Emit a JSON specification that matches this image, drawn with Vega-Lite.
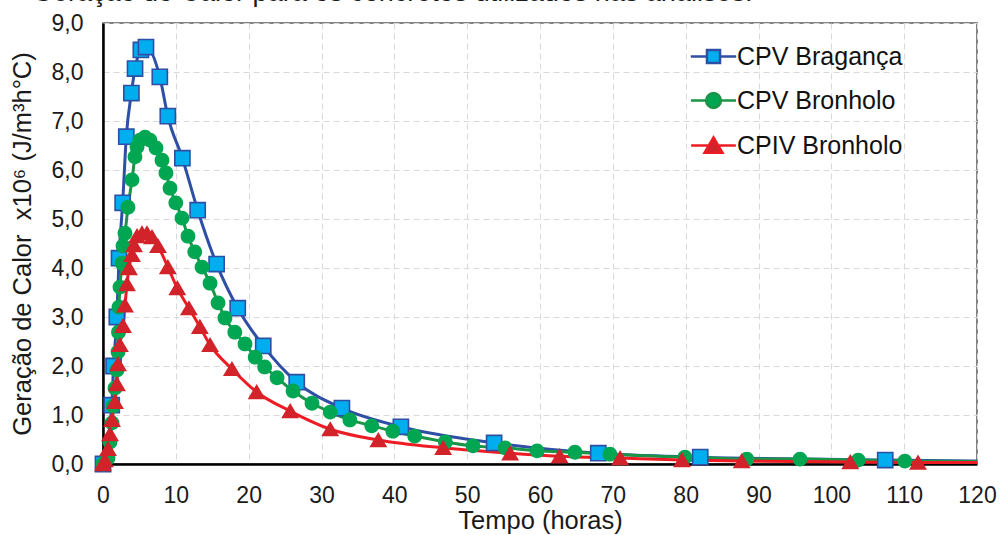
{
  "$schema": "https://vega.github.io/schema/vega-lite/v6.json",
  "width": 874,
  "height": 441,
  "autosize": {"type": "none"},
  "padding": {"left": 103, "top": 23, "right": 23, "bottom": 71},
  "background": "white",
  "title": {
    "text": "Geração do Calor para os concretos utilizados nas análises.",
    "anchor": "start",
    "frame": "group",
    "dx": -71,
    "dy": 22,
    "offset": 6,
    "baseline": "alphabetic",
    "font": "Liberation Sans",
    "fontSize": 27,
    "fontWeight": "normal",
    "color": "#1a1a1a"
  },
  "config": {
    "view": {"stroke": "#595959", "strokeWidth": 1.5},
    "axis": {
      "labelFont": "Liberation Sans",
      "labelFontSize": 23,
      "labelColor": "#1a1a1a",
      "titleFont": "Liberation Sans",
      "titleFontSize": 25.5,
      "titleFontWeight": "normal",
      "titleColor": "#1a1a1a",
      "domainColor": "#000000",
      "domainWidth": 2.5,
      "ticks": false,
      "tickSize": 0,
      "gridColor": "#D9D9D9",
      "gridDash": [6, 4],
      "gridWidth": 1,
      "labelPadding": 20
    },
    "legend": {
      "padding": 0,
      "rowPadding": 18,
      "labelOffset": 11,
      "symbolStrokeWidth": 2.5,
      "labelFont": "Liberation Sans",
      "labelFontSize": 25,
      "labelColor": "#111111",
      "labelLimit": 0
    }
  },
  "data": {
    "values": [
      {"s": "CPV Bragança", "t": 0, "v": 0},
      {"s": "CPV Bragança", "t": 1.2, "v": 1.2},
      {"s": "CPV Bragança", "t": 1.45, "v": 2.0},
      {"s": "CPV Bragança", "t": 1.9, "v": 3.0},
      {"s": "CPV Bragança", "t": 2.2, "v": 4.2},
      {"s": "CPV Bragança", "t": 2.7, "v": 5.33},
      {"s": "CPV Bragança", "t": 3.2, "v": 6.68},
      {"s": "CPV Bragança", "t": 3.9, "v": 7.57},
      {"s": "CPV Bragança", "t": 4.4, "v": 8.07},
      {"s": "CPV Bragança", "t": 5.2, "v": 8.45},
      {"s": "CPV Bragança", "t": 5.9, "v": 8.51},
      {"s": "CPV Bragança", "t": 7.8, "v": 7.9},
      {"s": "CPV Bragança", "t": 8.9, "v": 7.1},
      {"s": "CPV Bragança", "t": 10.9, "v": 6.24},
      {"s": "CPV Bragança", "t": 13.0, "v": 5.18},
      {"s": "CPV Bragança", "t": 15.6, "v": 4.08},
      {"s": "CPV Bragança", "t": 18.5, "v": 3.18},
      {"s": "CPV Bragança", "t": 22.0, "v": 2.41},
      {"s": "CPV Bragança", "t": 26.6, "v": 1.67},
      {"s": "CPV Bragança", "t": 32.8, "v": 1.14},
      {"s": "CPV Bragança", "t": 40.9, "v": 0.76},
      {"s": "CPV Bragança", "t": 53.7, "v": 0.43},
      {"s": "CPV Bragança", "t": 68.0, "v": 0.22},
      {"s": "CPV Bragança", "t": 82.0, "v": 0.14},
      {"s": "CPV Bragança", "t": 107.4, "v": 0.08},
      {"s": "CPV Bragança", "t": 120, "v": 0.06},

      {"s": "CPV Bronholo", "t": 0, "v": 0},
      {"s": "CPV Bronholo", "t": 0.69, "v": 0.12},
      {"s": "CPV Bronholo", "t": 0.96, "v": 0.45},
      {"s": "CPV Bronholo", "t": 1.24, "v": 0.84},
      {"s": "CPV Bronholo", "t": 1.37, "v": 1.18},
      {"s": "CPV Bronholo", "t": 1.65, "v": 1.55},
      {"s": "CPV Bronholo", "t": 1.92, "v": 1.92},
      {"s": "CPV Bronholo", "t": 2.06, "v": 2.29},
      {"s": "CPV Bronholo", "t": 2.13, "v": 2.69},
      {"s": "CPV Bronholo", "t": 2.2, "v": 3.2},
      {"s": "CPV Bronholo", "t": 2.33, "v": 3.61},
      {"s": "CPV Bronholo", "t": 2.61, "v": 4.1},
      {"s": "CPV Bronholo", "t": 2.75, "v": 4.45},
      {"s": "CPV Bronholo", "t": 3.02, "v": 4.71},
      {"s": "CPV Bronholo", "t": 3.43, "v": 5.24},
      {"s": "CPV Bronholo", "t": 3.98, "v": 5.8},
      {"s": "CPV Bronholo", "t": 4.39, "v": 6.27},
      {"s": "CPV Bronholo", "t": 4.67, "v": 6.47},
      {"s": "CPV Bronholo", "t": 5.08, "v": 6.61},
      {"s": "CPV Bronholo", "t": 5.77, "v": 6.67},
      {"s": "CPV Bronholo", "t": 6.45, "v": 6.61},
      {"s": "CPV Bronholo", "t": 7.28, "v": 6.45},
      {"s": "CPV Bronholo", "t": 8.1, "v": 6.2},
      {"s": "CPV Bronholo", "t": 8.65, "v": 5.94},
      {"s": "CPV Bronholo", "t": 9.2, "v": 5.63},
      {"s": "CPV Bronholo", "t": 10.0, "v": 5.33},
      {"s": "CPV Bronholo", "t": 10.85, "v": 5.02},
      {"s": "CPV Bronholo", "t": 11.67, "v": 4.65},
      {"s": "CPV Bronholo", "t": 12.6, "v": 4.33},
      {"s": "CPV Bronholo", "t": 13.6, "v": 4.02},
      {"s": "CPV Bronholo", "t": 14.7, "v": 3.69},
      {"s": "CPV Bronholo", "t": 15.8, "v": 3.29},
      {"s": "CPV Bronholo", "t": 16.75, "v": 2.98},
      {"s": "CPV Bronholo", "t": 18.1, "v": 2.69},
      {"s": "CPV Bronholo", "t": 19.5, "v": 2.45},
      {"s": "CPV Bronholo", "t": 20.9, "v": 2.18},
      {"s": "CPV Bronholo", "t": 22.2, "v": 1.98},
      {"s": "CPV Bronholo", "t": 23.9, "v": 1.76},
      {"s": "CPV Bronholo", "t": 26.1, "v": 1.49},
      {"s": "CPV Bronholo", "t": 28.7, "v": 1.24},
      {"s": "CPV Bronholo", "t": 31.2, "v": 1.06},
      {"s": "CPV Bronholo", "t": 33.9, "v": 0.9},
      {"s": "CPV Bronholo", "t": 36.9, "v": 0.78},
      {"s": "CPV Bronholo", "t": 39.8, "v": 0.67},
      {"s": "CPV Bronholo", "t": 42.8, "v": 0.57},
      {"s": "CPV Bronholo", "t": 47.0, "v": 0.45},
      {"s": "CPV Bronholo", "t": 50.8, "v": 0.37},
      {"s": "CPV Bronholo", "t": 55.2, "v": 0.33},
      {"s": "CPV Bronholo", "t": 59.6, "v": 0.27},
      {"s": "CPV Bronholo", "t": 64.8, "v": 0.24},
      {"s": "CPV Bronholo", "t": 69.6, "v": 0.2},
      {"s": "CPV Bronholo", "t": 79.9, "v": 0.14},
      {"s": "CPV Bronholo", "t": 88.4, "v": 0.1},
      {"s": "CPV Bronholo", "t": 95.7, "v": 0.1},
      {"s": "CPV Bronholo", "t": 103.7, "v": 0.08},
      {"s": "CPV Bronholo", "t": 110.1, "v": 0.06},
      {"s": "CPV Bronholo", "t": 120, "v": 0.05},

      {"s": "CPIV Bronholo", "t": 0, "v": 0},
      {"s": "CPIV Bronholo", "t": 0.27, "v": 0.08},
      {"s": "CPIV Bronholo", "t": 0.69, "v": 0.31},
      {"s": "CPIV Bronholo", "t": 0.96, "v": 0.61},
      {"s": "CPIV Bronholo", "t": 1.24, "v": 0.9},
      {"s": "CPIV Bronholo", "t": 1.65, "v": 1.27},
      {"s": "CPIV Bronholo", "t": 1.92, "v": 1.63},
      {"s": "CPIV Bronholo", "t": 2.06, "v": 2.04},
      {"s": "CPIV Bronholo", "t": 2.33, "v": 2.43},
      {"s": "CPIV Bronholo", "t": 2.75, "v": 2.82},
      {"s": "CPIV Bronholo", "t": 3.02, "v": 3.24},
      {"s": "CPIV Bronholo", "t": 3.3, "v": 3.67},
      {"s": "CPIV Bronholo", "t": 3.57, "v": 4.0},
      {"s": "CPIV Bronholo", "t": 3.98, "v": 4.27},
      {"s": "CPIV Bronholo", "t": 4.26, "v": 4.47},
      {"s": "CPIV Bronholo", "t": 4.67, "v": 4.65},
      {"s": "CPIV Bronholo", "t": 5.35, "v": 4.71},
      {"s": "CPIV Bronholo", "t": 6.04, "v": 4.71},
      {"s": "CPIV Bronholo", "t": 6.73, "v": 4.63},
      {"s": "CPIV Bronholo", "t": 7.55, "v": 4.45},
      {"s": "CPIV Bronholo", "t": 8.9, "v": 4.02},
      {"s": "CPIV Bronholo", "t": 10.2, "v": 3.59},
      {"s": "CPIV Bronholo", "t": 11.8, "v": 3.18},
      {"s": "CPIV Bronholo", "t": 13.3, "v": 2.8},
      {"s": "CPIV Bronholo", "t": 14.7, "v": 2.43},
      {"s": "CPIV Bronholo", "t": 17.7, "v": 1.94},
      {"s": "CPIV Bronholo", "t": 21.1, "v": 1.47},
      {"s": "CPIV Bronholo", "t": 25.7, "v": 1.08},
      {"s": "CPIV Bronholo", "t": 31.2, "v": 0.71},
      {"s": "CPIV Bronholo", "t": 37.8, "v": 0.49},
      {"s": "CPIV Bronholo", "t": 46.7, "v": 0.33},
      {"s": "CPIV Bronholo", "t": 55.9, "v": 0.22},
      {"s": "CPIV Bronholo", "t": 62.7, "v": 0.16},
      {"s": "CPIV Bronholo", "t": 71.0, "v": 0.12},
      {"s": "CPIV Bronholo", "t": 79.5, "v": 0.08},
      {"s": "CPIV Bronholo", "t": 87.7, "v": 0.06},
      {"s": "CPIV Bronholo", "t": 102.6, "v": 0.04},
      {"s": "CPIV Bronholo", "t": 111.9, "v": 0.03},
      {"s": "CPIV Bronholo", "t": 120, "v": 0.03}
    ]
  },
  "encoding": {
    "x": {
      "field": "t",
      "type": "quantitative",
      "scale": {"domain": [0, 120], "nice": false, "zero": false},
      "axis": {
        "title": "Tempo (horas)",
        "values": [0, 10, 20, 30, 40, 50, 60, 70, 80, 90, 100, 110, 120],
        "labelFlush": false,
        "labelOverlap": false,
        "titlePadding": 1
      }
    },
    "y": {
      "field": "v",
      "type": "quantitative",
      "scale": {"domain": [0, 9], "nice": false},
      "axis": {
        "title": "Geração de Calor\u00a0 x10⁶ (J/m³h°C)",
        "values": [0, 1, 2, 3, 4, 5, 6, 7, 8, 9],
        "labelExpr": "replace(format(datum.value, '.1f'), '.', ',')",
        "titlePadding": 16
      }
    }
  },
  "layer": [
    {
      "mark": {"type": "line", "interpolate": "monotone", "strokeWidth": 3},
      "encoding": {
        "detail": {"field": "s"},
        "stroke": {
          "field": "s",
          "type": "nominal",
          "scale": {
            "domain": ["CPV Bragança", "CPV Bronholo", "CPIV Bronholo"],
            "range": ["#2E4FA3", "#1B9447", "#ED1C24"]
          },
          "legend": {"title": null, "orient": "none", "legendX": 598, "legendY": 21}
        }
      }
    },
    {
      "transform": [{"filter": "datum.t < 120 && datum.s === 'CPV Bragança'"}],
      "mark": {"type": "point", "shape": "square", "filled": true, "opacity": 1, "size": 230, "fill": "#00AEEF", "stroke": "#2E4FA3", "strokeWidth": 1.6}
    },
    {
      "transform": [{"filter": "datum.t < 120 && datum.s !== 'CPV Bragança'"}],
      "mark": {"type": "point", "filled": true, "opacity": 1, "strokeWidth": 0},
      "encoding": {
        "shape": {
          "field": "s",
          "type": "nominal",
          "scale": {
            "domain": ["CPV Bragança", "CPV Bronholo", "CPIV Bronholo"],
            "range": [
              "M-2.5,0H-0.72M0.72,0H2.5M-0.72,-0.72H0.72V0.72H-0.72Z",
              "M-2.5,0H-0.82M0.82,0H2.5M-0.82,0A0.82,0.82,0,1,1,0.82,0A0.82,0.82,0,1,1,-0.82,0Z",
              "M-2.5,0H-0.5M0.5,0H2.5M0,-0.9L1,0.8H-1Z"
            ]
          },
          "legend": {"title": null, "orient": "none", "legendX": 598, "legendY": 21}
        },
        "fill": {
          "field": "s",
          "type": "nominal",
          "scale": {
            "domain": ["CPV Bragança", "CPV Bronholo", "CPIV Bronholo"],
            "range": ["#00AEEF", "#00A651", "#D2232A"]
          },
          "legend": {"title": null, "orient": "none", "legendX": 598, "legendY": 21}
        },
        "stroke": {
          "field": "s",
          "type": "nominal",
          "legend": {"title": null, "orient": "none", "legendX": 598, "legendY": 21}
        },
        "size": {
          "field": "s",
          "type": "nominal",
          "scale": {
            "domain": ["CPV Bragança", "CPV Bronholo", "CPIV Bronholo"],
            "range": [330, 320, 290]
          },
          "legend": {"title": null, "orient": "none", "legendX": 598, "legendY": 21}
        }
      }
    }
  ]
}
